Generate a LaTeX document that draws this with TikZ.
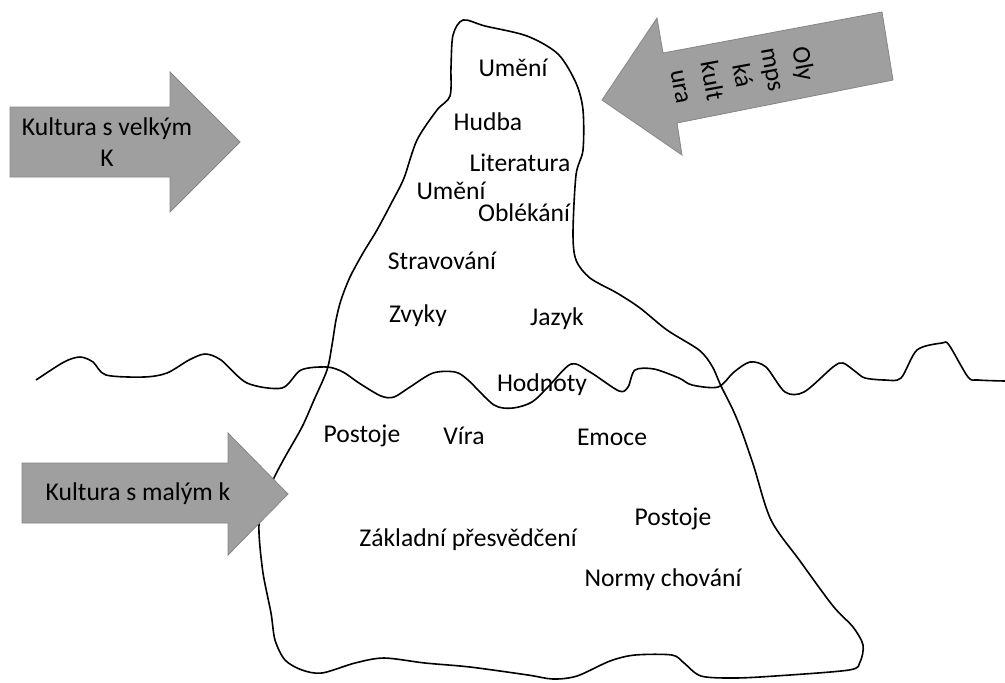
\documentclass[tikz,border=0pt]{standalone}
\usepackage{fontspec}
\setmainfont{Carlito}
\usepackage{tikz}
\usetikzlibrary{calc}

\begin{document}
\begin{tikzpicture}[
    x=0.5pt, y=-0.5pt,
    outline/.style={draw=black, line width=0.8pt, line join=round},
    bigarrow/.style={fill=gray!75, draw=gray!95, line width=0.4pt},
    word/.style={font=\fontsize{12.8}{15.5}\selectfont, inner sep=1pt},
    arrowtext/.style={font=\fontsize{12.8}{15.5}\selectfont, align=center, inner sep=1pt}
]
\useasboundingbox (0,0) rectangle (1005,682);

% Iceberg
\draw[outline] plot[smooth cycle, tension=0.5] coordinates {
  (463,20) (485,26) (527,36) (558,54) (576,83) (583,110) (583,150)
  (576,175) (573,233) (576,260) (590,278) (617,293) (640,308) (667,330)
  (699,350) (712,366) (721,386) (733,410) (742,432) (754,467) (771,520)
  (800,561) (833,606) (853,627) (863,645) (860,662) (849,670) (775,676)
  (734,678) (701,676) (684,663) (672,655) (635,655) (610,661) (577,676)
  (553,679) (528,675) (470,667) (425,663) (384,658) (355,663) (322,673)
  (302,670) (285,660) (275,640) (271,613) (263,573) (259,533) (261,510)
  (273,480) (285,457) (302,427) (314,400) (327,370) (332,345) (336,320)
  (341,300) (350,277) (363,253) (377,230) (393,200) (404,178) (417,140)
  (437,110) (450,96) (451,67) (453,35)};

% Water line
\draw[outline] plot[smooth, tension=0.5] coordinates {
  (36,380) (64,362) (80,357) (93,362) (106,375) (144,377) (167,373)
  (189,360) (205,354) (221,360) (247,383) (282,388) (301,370) (327,367)
  (343,372) (359,383) (381,396) (394,397) (410,387) (433,373) (455,372)
  (468,380) (494,405) (513,408) (532,402) (548,387) (571,364) (590,372)
  (619,391) (628,387) (635,370) (654,369) (679,378) (692,385) (718,387)
  (734,372) (750,362) (766,367) (785,392) (804,392) (833,367) (843,363)
  (856,372) (865,378) (885,380) (901,378) (917,350) (942,343) (949,345)
  (968,377) (978,380) (1005,381)};

% Arrows
\draw[bigarrow] (10,107) -- (170,107) -- (170,72) -- (240,142)
  -- (170,212) -- (170,177) -- (10,177) -- cycle;
\draw[bigarrow] (22,463) -- (228,463) -- (228,433) -- (288,494)
  -- (228,555) -- (228,523) -- (22,523) -- cycle;
\draw[bigarrow] (602,100) -- (657,18) -- (663,53) -- (882,12)
  -- (893,80) -- (677,123) -- (682,155) -- cycle;

\node[arrowtext] (velke) at (107,142) {Kultura s velkým\\K};
\node[arrowtext] (male) at (138,494) {Kultura s malým k};
\node[arrowtext, rotate=-79.5] (olymp) at (743,75)
  {Oly\\mps\\ká\\kult\\ura};

% Above water
\node[word] (umeni) at (513,68) {Umění};
\node[word] (hudba) at (488,122) {Hudba};
\node[word] (literatura) at (520,163) {Literatura};
\node[word] (umeni2) at (451,191) {Umění};
\node[word] (oblekani) at (524,213) {Oblékání};
\node[word] (stravovani) at (442,261) {Stravování};
\node[word] (zvyky) at (418,316) {Zvyky};
\node[word] (jazyk) at (557,319) {Jazyk};
\node[word] (hodnoty) at (542,385) {Hodnoty};

% Below water
\node[word] (postoje) at (362,436) {Postoje};
\node[word] (vira) at (464,436) {Víra};
\node[word] (emoce) at (612,437) {Emoce};
\node[word] (postoje2) at (673,519) {Postoje};
\node[word] (zakladni) at (468,540) {Základní přesvědčení};
\node[word] (normy) at (663,580) {Normy chování};
\end{tikzpicture}
\end{document}
